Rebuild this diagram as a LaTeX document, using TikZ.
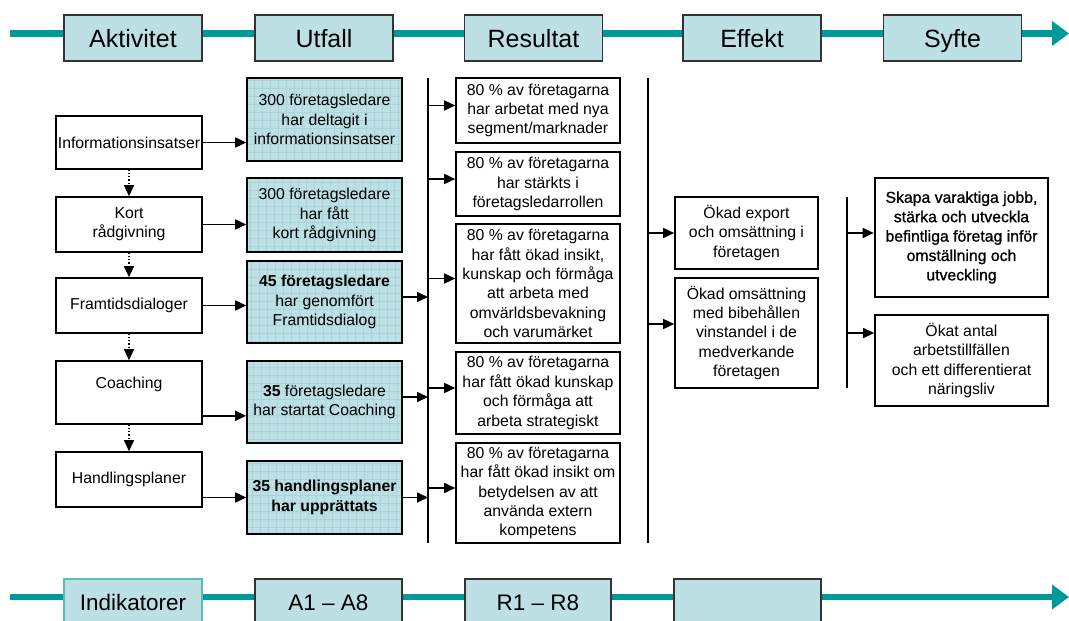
\documentclass[tikz,border=0pt]{standalone}
\usepackage{fontspec}
\setmainfont{Liberation Sans}
\newfontfamily\heavyfont{Liberation Sans}[FakeBold=1]
\usetikzlibrary{arrows.meta,backgrounds,calc}
\definecolor{tealbar}{RGB}{0,153,153}
\definecolor{tealbox}{RGB}{189,224,228}
\definecolor{tealgrid}{RGB}{170,212,217}
\definecolor{tealedge}{RGB}{90,185,185}
\newcommand{\headsize}{\fontsize{25}{30}\selectfont}
\newcommand{\indsize}{\fontsize{22.5}{27}\selectfont}
\newcommand{\bodysize}{\fontsize{15.8}{19.4}\selectfont}
\tikzset{
  bar/.style={line width=6.5pt, color=tealbar, -{Triangle[length=17pt,width=24pt]}},
  head/.style={draw=black!80, line width=1.4pt, fill=tealbox, minimum width=138pt,
    minimum height=46pt, inner sep=0pt, text height=18pt, text depth=0pt, font=\headsize},
  indic/.style={head, text height=16pt, font=\indsize},
  box/.style={draw, line width=1.6pt, fill=white, align=center, inner sep=0pt, font=\bodysize},
  act/.style={box, minimum width=146pt},
  gridded/.style={box, fill=tealbox, minimum width=155pt,
    path picture={\draw[tealgrid, line width=0.6pt] (path picture bounding box.south west)
      grid[step=8pt] (path picture bounding box.north east);}},
  res/.style={box, minimum width=164pt},
  eff/.style={box, minimum width=143pt},
  aim/.style={box, minimum width=173pt},
  arr/.style={line width=1.6pt, -{Triangle[length=11pt,width=10pt]}},
  dotarr/.style={line width=1.2pt, dotted, -{Triangle[length=11pt,width=10pt]}},
  bus/.style={line width=1.6pt}
}
\begin{document}
\begin{tikzpicture}[x=1pt,y=-1pt]
\useasboundingbox (0,0) rectangle (1069,621);
\clip (0,0) rectangle (1069,621);
% header row
\node[head] (akt) at (133,38) {Aktivitet};
\node[head] (utf) at (324,38) {Utfall};
\node[head] (resu) at (533.5,38) {Resultat};
\node[head] (effekt) at (752,38) {Effekt};
\node[head] (syfte) at (952.5,38) {Syfte};
\coordinate (topstart) at (10,33.5);
\coordinate (topend) at (1069,33.5);
% indicator row
\node[indic, draw=tealedge] (ind) at (133,602) {Indikatorer};
\node[indic, minimum width=147pt] (inda) at (328.5,602) {A1 – A8};
\node[indic, minimum width=146pt] (indr) at (538,602) {R1 – R8};
\node[indic, minimum width=147pt] (inde) at (747.5,602) {};
\coordinate (botstart) at (10,597);
\coordinate (botend) at (1069,597);
\begin{scope}[on background layer]
\draw[bar] (topstart) -- (topend);
\draw[bar] (botstart) -- (botend);
\end{scope}
% activities
\node[act, minimum height=53pt] (info) at (129,142.5) {Informationsinsatser};
\node[act, minimum height=55pt] (kort) at (129,224.5) {Kort\\rådgivning};
\node[act, minimum height=55pt] (fram) at (129,305.5) {Framtidsdialoger};
\node[act, minimum height=63pt, text height=12pt, text depth=20pt] (coach) at (129,392.5) {Coaching};
\node[act, minimum height=55pt] (plan) at (129,479.5) {Handlingsplaner};
\foreach \a/\b in {info/kort, kort/fram, fram/coach, coach/plan}
  \draw[dotarr] (\a) -- (\b);
% outcomes
\node[gridded, minimum height=83pt] (out1) at (324.5,119.5) {300 företagsledare\\har deltagit i\\informationsinsatser};
\node[gridded, minimum height=74pt] (out2) at (324.5,215) {300 företagsledare\\har fått\\kort rådgivning};
\node[gridded, minimum height=82pt] (out3) at (324.5,302) {\textbf{45 företagsledare}\\har genomfört\\Framtidsdialog};
\node[gridded, minimum height=82pt] (out4) at (324.5,402) {\textbf{35} företagsledare\\har startat Coaching};
\node[gridded, minimum height=73pt] (out5) at (324.5,497.5) {\textbf{35 handlingsplaner}\\\textbf{har upprättats}};
\draw[arr] (info.east) -- (info.east -| out1.west);
\draw[arr] (kort.east) -- (kort.east -| out2.west);
\draw[arr] (fram.east) -- (fram.east -| out3.west);
\draw[arr] ([yshift=9pt]coach.south east) -- ([yshift=9pt]coach.south east -| out4.west);
\draw[arr] (out5.west -| plan.east) -- (out5.west);
% results
\coordinate (busAtop) at (428,78);
\coordinate (busAbot) at (428,543);
\draw[bus] (busAtop) -- (busAbot);
\node[res, minimum height=65pt] (r1) at (538,110.5) {80 \% av företagarna\\har arbetat med nya\\segment/marknader};
\node[res, minimum height=64pt] (r2) at (538,184) {80 \% av företagarna\\har stärkts i\\företagsledarrollen};
\node[res, minimum height=119pt] (r3) at (538,283.5) {80 \% av företagarna\\har fått ökad insikt,\\kunskap och förmåga\\att arbeta med\\omvärldsbevakning\\och varumärket};
\node[res, minimum height=82pt] (r4) at (538,393) {80 \% av företagarna\\har fått ökad kunskap\\och förmåga att\\arbeta strategiskt};
\node[res, minimum height=100pt] (r5) at (538,493) {80 \% av företagarna\\har fått ökad insikt om\\betydelsen av att\\använda extern\\kompetens};
\foreach \n in {3,4}
  \draw[arr] ([yshift=5pt]out\n.east) -- ([yshift=5pt]out\n.east -| busAtop);
\draw[arr] (out5.east) -- (out5.east -| busAtop);
\foreach \n in {1,...,5}
  \draw[arr] ([yshift=5pt]r\n.west -| busAtop) -- ([yshift=5pt]r\n.west);
% effects
\coordinate (busBtop) at (648,78);
\coordinate (busBbot) at (648,543);
\draw[bus] (busBtop) -- (busBbot);
\node[eff, minimum height=72pt] (e1) at (746.5,233) {Ökad export\\och omsättning i\\företagen};
\node[eff, minimum height=110pt] (e2) at (746.5,333) {Ökad omsättning\\med bibehållen\\vinstandel i de\\medverkande\\företagen};
\draw[arr] (e1.west -| busBtop) -- (e1.west);
\draw[arr] ([yshift=9pt]e2.west -| busBtop) -- ([yshift=9pt]e2.west);
% aims
\coordinate (busCtop) at (847,197);
\coordinate (busCbot) at (847,388);
\draw[bus] (busCtop) -- (busCbot);
\node[aim, line width=2.6pt, minimum height=119pt, font=\bodysize\heavyfont] (s1) at (961.5,237.5) {Skapa varaktiga jobb,\\stärka och utveckla\\befintliga företag inför\\omställning och\\utveckling};
\node[aim, minimum height=91pt] (s2) at (961.5,360.5) {Ökat antal\\arbetstillfällen\\och ett differentierat\\näringsliv};
\draw[arr] ([yshift=4.5pt]s1.west -| busCtop) -- ([yshift=4.5pt]s1.west);
\draw[arr] ([yshift=27.5pt]s2.west -| busCtop) -- ([yshift=27.5pt]s2.west);
\end{tikzpicture}
\end{document}
